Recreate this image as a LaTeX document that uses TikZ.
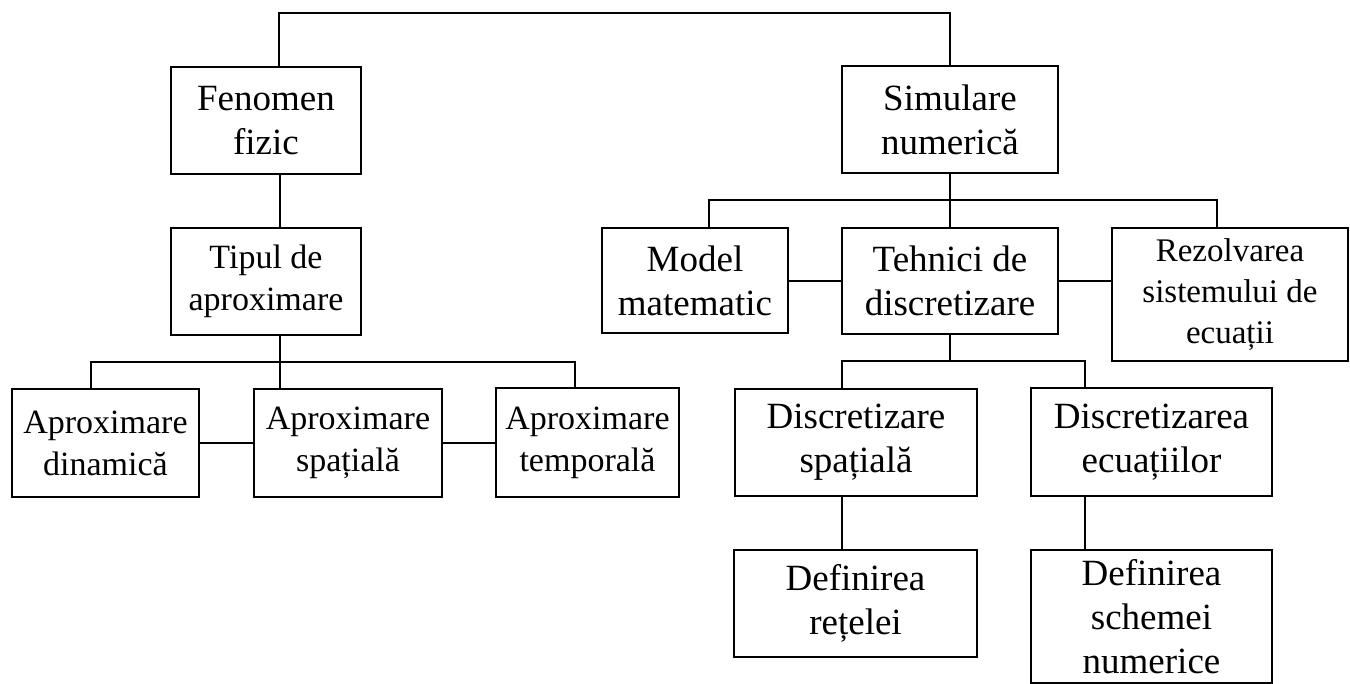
\documentclass[tikz,border=0pt]{standalone}
\usepackage{fontspec}
\setmainfont{Liberation Serif}
\begin{document}
\begin{tikzpicture}[x=0.5pt,y=-0.5pt,line width=1.2pt,
  box/.style={draw,line width=1.2pt,align=center,inner sep=0pt,font=\fontsize{18.5}{22}\selectfont},
  midbox/.style={box,font=\fontsize{17}{21}\selectfont},
  smallbox/.style={box,font=\fontsize{16.5}{20.5}\selectfont}]
\useasboundingbox (0,0) rectangle (1350,684);
% boxes
\node[box,minimum width=95pt,minimum height=53.5pt] (fen) at (266,120.5) {Fenomen\\fizic};
\node[box,minimum width=108pt,minimum height=53.5pt] (sim) at (950,119.5) {Simulare\\numerică};
\node[midbox,minimum width=95pt,minimum height=53.5pt] (tip) at (266,281.5) {Tipul de\\aproximare};
\node[midbox,minimum width=93.5pt,minimum height=54pt] (din) at (105.5,443) {Aproximare\\dinamică};
\node[midbox,minimum width=94pt,minimum height=54pt] (spa) at (348,443) {Aproximare\\spațială};
\node[midbox,minimum width=91.5pt,minimum height=54.5pt] (tem) at (587.5,442.5) {Aproximare\\temporală};
\node[box,minimum width=93pt,minimum height=52.5pt] (mod) at (695,280.5) {Model\\matematic};
\node[box,minimum width=108pt,minimum height=53pt] (teh) at (950,281) {Tehnici de\\discretizare};
\node[smallbox,minimum width=118pt,minimum height=66.5pt] (rez) at (1230,294.5) {Rezolvarea\\sistemului de\\ecuații};
\node[box,minimum width=121pt,minimum height=53.5pt] (dsp) at (856,442.5) {Discretizare\\spațială};
\node[box,minimum width=120.5pt,minimum height=54pt] (dec) at (1151.5,442) {Discretizarea\\ecuațiilor};
\node[box,minimum width=121.5pt,minimum height=53.5pt] (dre) at (855.5,603.5) {Definirea\\rețelei};
\node[box,minimum width=120.5pt,minimum height=66.5pt] (dsc) at (1151.5,616.5) {Definirea\\schemei\\numerice};
% junction coordinates
\coordinate (tl) at (279,13);
\coordinate (tr) at (950,13);
\coordinate (vl) at (280,0);
\coordinate (bl1) at (91,362);
\coordinate (bl2) at (575,362);
\coordinate (br1) at (709,200);
\coordinate (br2) at (1217,200);
\coordinate (bd1) at (842,361);
\coordinate (bd2) at (1085,361);
% connectors
\draw (fen.north -| tl) -- (tl) -- (tr) -- (sim.north);
\draw (fen.south -| vl) -- (tip.north -| vl);
\draw (tip.south -| vl) -- (spa.north -| vl);
\draw (din.north -| bl1) -- (bl1) -- (bl2) -- (tem.north -| bl2);
\draw (din.east) -- (din.east -| spa.west);
\draw (spa.east) -- (spa.east -| tem.west);
\draw (sim.south) -- (teh.north);
\draw (mod.north -| br1) -- (br1) -- (br2) -- (rez.north -| br2);
\draw (teh.west) -- (teh.west -| mod.east);
\draw (teh.east) -- (teh.east -| rez.west);
\draw (teh.south) -- (teh.south |- bd1);
\draw (dsp.north -| bd1) -- (bd1) -- (bd2) -- (dec.north -| bd2);
\draw (dsp.south -| bd1) -- (dre.north -| bd1);
\draw (dec.south -| bd2) -- (dsc.north -| bd2);
\end{tikzpicture}
\end{document}
